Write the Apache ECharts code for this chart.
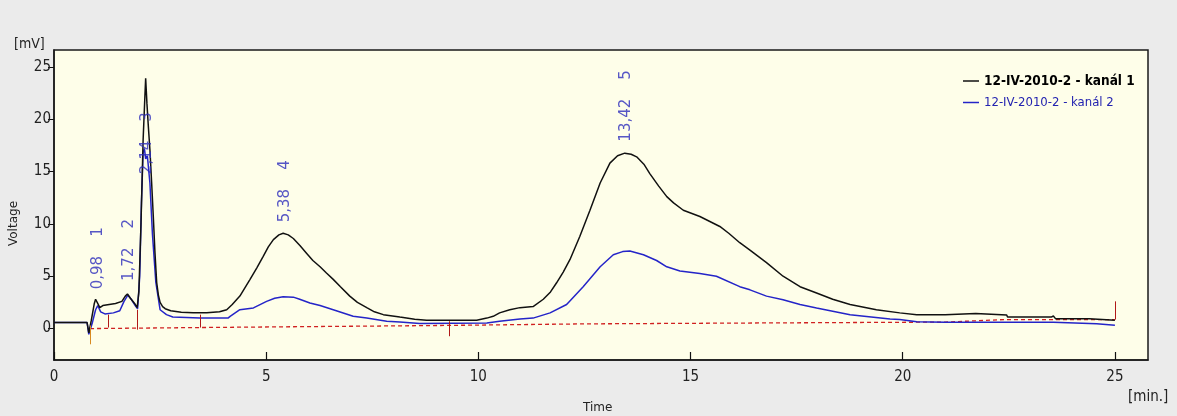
<!DOCTYPE html>
<html><head><meta charset="utf-8">
<script src="https://cdn.jsdelivr.net/npm/echarts@6/dist/echarts.min.js"></script>
<style>html,body{margin:0;padding:0;background:#ebebeb}#c{width:1177px;height:416px}</style>
</head><body><div id="c"></div>
<script>
// ---- data ----
const seriesNames = ['12-IV-2010-2 - kanál 1', '12-IV-2010-2 - kanál 2'];
const xTicks = [0, 5, 10, 15, 20, 25];
const yTicks = [0, 5, 10, 15, 20, 25];

const ch1Time = [0,0.78,0.82,0.88,0.95,0.98,1.03,1.08,1.15,1.3,1.45,1.6,1.68,1.73,1.8,1.9,1.96,2.0,2.05,2.1,2.14,2.16,2.19,2.22,2.26,2.3,2.34,2.38,2.42,2.46,2.5,2.56,2.62,2.75,3.0,3.28,3.6,3.9,4.07,4.2,4.38,4.62,4.78,4.93,5.05,5.17,5.3,5.4,5.52,5.64,5.8,5.95,6.1,6.27,6.42,6.58,6.75,6.97,7.15,7.37,7.55,7.76,8.15,8.5,8.78,9.5,9.96,10.2,10.35,10.5,10.74,10.98,11.29,11.53,11.7,11.84,12.0,12.16,12.39,12.63,12.87,13.1,13.28,13.45,13.6,13.73,13.9,14.04,14.25,14.44,14.6,14.83,15.22,15.69,15.9,16.16,16.4,16.79,17.18,17.58,17.97,18.35,18.76,19.38,19.93,20.33,21.0,21.01,21.72,21.74,22.45,22.47,23.5,23.55,23.6,24.4,24.42,25.0];
const ch1Value = [0.57,0.57,-0.4,0.8,2.4,2.8,2.4,2.0,2.2,2.3,2.4,2.6,3.1,3.3,2.9,2.4,2.0,3.5,10,18,22,23.9,21.5,19.5,17.1,14,10.7,7.2,4.4,3.2,2.5,2.1,1.9,1.7,1.55,1.5,1.5,1.6,1.8,2.3,3.1,4.7,5.8,6.9,7.8,8.5,8.95,9.1,8.95,8.6,7.9,7.2,6.5,5.9,5.3,4.7,4.0,3.1,2.5,2.0,1.6,1.33,1.1,0.9,0.8,0.8,0.8,1.0,1.17,1.5,1.8,2.0,2.1,2.8,3.5,4.35,5.4,6.6,8.8,11.3,13.9,15.8,16.5,16.75,16.65,16.4,15.7,14.8,13.6,12.6,12.0,11.3,10.7,9.75,9.1,8.2,7.5,6.3,5.0,4.0,3.4,2.8,2.3,1.8,1.5,1.33,1.33,1.45,1.45,1.3,1.3,1.1,1.1,1.2,0.95,0.95,0.8,0.8];

const ch2Time = [0,0.78,0.82,0.9,0.98,1.03,1.1,1.2,1.4,1.55,1.65,1.74,1.82,1.93,1.97,2.02,2.06,2.1,2.13,2.16,2.2,2.26,2.32,2.4,2.5,2.65,2.8,3.44,4.1,4.15,4.38,4.7,5.01,5.2,5.4,5.64,5.79,6.03,6.27,6.58,7.05,7.37,7.84,8.15,8.62,10.2,10.5,10.98,11.29,11.69,12.08,12.47,12.87,13.18,13.4,13.57,13.89,14.2,14.44,14.75,15.22,15.61,16.16,16.4,16.79,17.18,17.58,17.97,18.76,19.7,19.93,20.33,21.0,23.55,23.58,24.57,24.6,25.0];
const ch2Value = [0.57,0.57,-0.55,0.5,1.8,2.2,1.6,1.4,1.5,1.7,2.6,3.2,2.8,2.1,1.9,5,12,16.8,17.2,16.2,16.5,13.9,9,4.4,1.8,1.33,1.1,1.0,1.0,1.17,1.8,1.97,2.6,2.9,3.05,3.0,2.8,2.45,2.2,1.8,1.17,1.0,0.7,0.64,0.48,0.54,0.7,0.92,1.0,1.5,2.3,4.0,5.9,7.05,7.35,7.4,7.05,6.5,5.9,5.5,5.25,5.0,4.0,3.7,3.1,2.76,2.3,1.97,1.33,0.92,0.86,0.65,0.6,0.6,0.5,0.45,0.32,0.32];

const baselineTime = [0.85,3.45,9.25,12.5,17.3,21.0,22.4,25.0];
const baselineValue = [0.0,0.1,0.3,0.45,0.55,0.62,0.86,0.86];

const boundaryTime = [0.85,1.28,1.96,3.44,9.31,25.0];
const boundaryLow  = [-1.5,0.1,-0.1,0.1,-0.73,0.86];
const boundaryHigh = [0.3,1.33,1.8,1.33,0.7,2.6];

const peakRT = [0.98,1.72,2.14,5.38,13.42];
const peakId = [1,2,3,4,5];
const peakLabelAt = [3.7,4.5,14.7,10.1,17.8];

// ---- chart ----
const pairs = (xs, ys) => xs.map((x, i) => [x, ys[i]]);
const narrow = "'Liberation Sans Narrow','DejaVu Sans Condensed',sans-serif";
const blueText = '#2c2cbc';
const yMin = -3;

const chart = echarts.init(document.getElementById('c'), null, {renderer: 'canvas'});
chart.setOption({
  backgroundColor: '#ebebeb',
  animation: false,
  grid: {left: 54, right: 29, top: 50, bottom: 56, show: true,
         backgroundColor: '#fefee9', borderColor: '#1a1a1a', borderWidth: 1.5},
  legend: {
    orient: 'vertical', left: 958, top: 69, itemGap: 8,
    icon: 'rect', itemWidth: 16, itemHeight: 1.5,
    textStyle: {fontFamily: narrow, fontSize: 13.5},
    data: [
      {name: seriesNames[0], textStyle: {color: '#000', fontWeight: 'bold', fontSize: 13.5}},
      {name: seriesNames[1], textStyle: {color: '#2323b0', fontSize: 13}}
    ]
  },
  xAxis: {
    type: 'value', min: 0, max: 25.78, interval: 5, position: 'bottom',
    axisLine: {show: true, onZero: false, lineStyle: {color: '#1a1a1a', width: 1.5}},
    splitLine: {show: false},
    axisTick: {show: true, inside: true, length: 8, lineStyle: {color: '#111', width: 1.2}},
    axisLabel: {showMaxLabel: false, color: '#222', fontFamily: narrow, fontSize: 15, margin: 10,
                formatter: v => (xTicks.indexOf(v) >= 0 ? String(v) : '')}
  },
  yAxis: {
    type: 'value', min: yMin, max: 26.6, position: 'left',
    axisLine: {show: true, onZero: false, lineStyle: {color: '#1a1a1a', width: 1.5}},
    splitLine: {show: false},
    axisTick: {show: true, length: 6, customValues: yTicks, lineStyle: {color: '#111', width: 1}},
    axisLabel: {customValues: yTicks, color: '#222', fontFamily: narrow, fontSize: 15, margin: 3}
  },
  graphic: {elements: [
    {type: 'text', left: 14, top: 37, style: {text: '[mV]', font: "14px 'Liberation Sans Narrow','DejaVu Sans Condensed',sans-serif", fill: '#222'}},
    {type: 'text', x: 8, y: 246, rotation: Math.PI / 2, style: {text: 'Voltage', font: "12px 'DejaVu Sans',sans-serif", fill: '#222'}},
    {type: 'text', left: 583, top: 402, style: {text: 'Time', font: "12px 'DejaVu Sans',sans-serif", fill: '#222'}},
    {type: 'text', left: 1128, top: 390, style: {text: '[min.]', font: "15px 'Liberation Sans Narrow','DejaVu Sans Condensed',sans-serif", fill: '#222'}}
  ]},
  series: [
    {
      name: 'baseline', type: 'line', data: pairs(baselineTime, baselineValue),
      symbol: 'none', silent: true, z: 1,
      lineStyle: {color: '#d02020', width: 1.3, type: [4, 3]},
      markLine: {
        symbol: 'none', silent: true, label: {show: false},
        lineStyle: {color: '#b01818', width: 1, type: 'solid'},
        data: boundaryTime.map((t, i) => [
          {coord: [t, boundaryLow[i]], lineStyle: i === 0 ? {color: '#d88a20'} : undefined},
          {coord: [t, boundaryHigh[i]]}
        ])
      }
    },
    {
      name: seriesNames[1], type: 'line', data: pairs(ch2Time, ch2Value),
      symbol: 'none', z: 2, color: '#2424c8',
      lineStyle: {color: '#2424c8', width: 1.5}
    },
    {
      name: seriesNames[0], type: 'line', data: pairs(ch1Time, ch1Value),
      symbol: 'none', z: 3, color: '#111',
      lineStyle: {color: '#111', width: 1.5}
    },
    {
      name: 'peaks', type: 'scatter', z: 4, silent: true,
      symbolSize: 1, itemStyle: {color: 'rgba(0,0,0,0)'},
      data: peakRT.map((t, i) => [t, peakLabelAt[i], peakId[i]]),
      label: {
        show: true, position: [3, 0], rotate: 90, align: 'left', verticalAlign: 'middle',
        color: blueText, fontFamily: "'DejaVu Sans',sans-serif", fontSize: 15,
        formatter: p => p.value[0].toFixed(2).replace('.', ',') + '    ' + p.value[2]
      }
    }
  ]
});
</script></body></html>
